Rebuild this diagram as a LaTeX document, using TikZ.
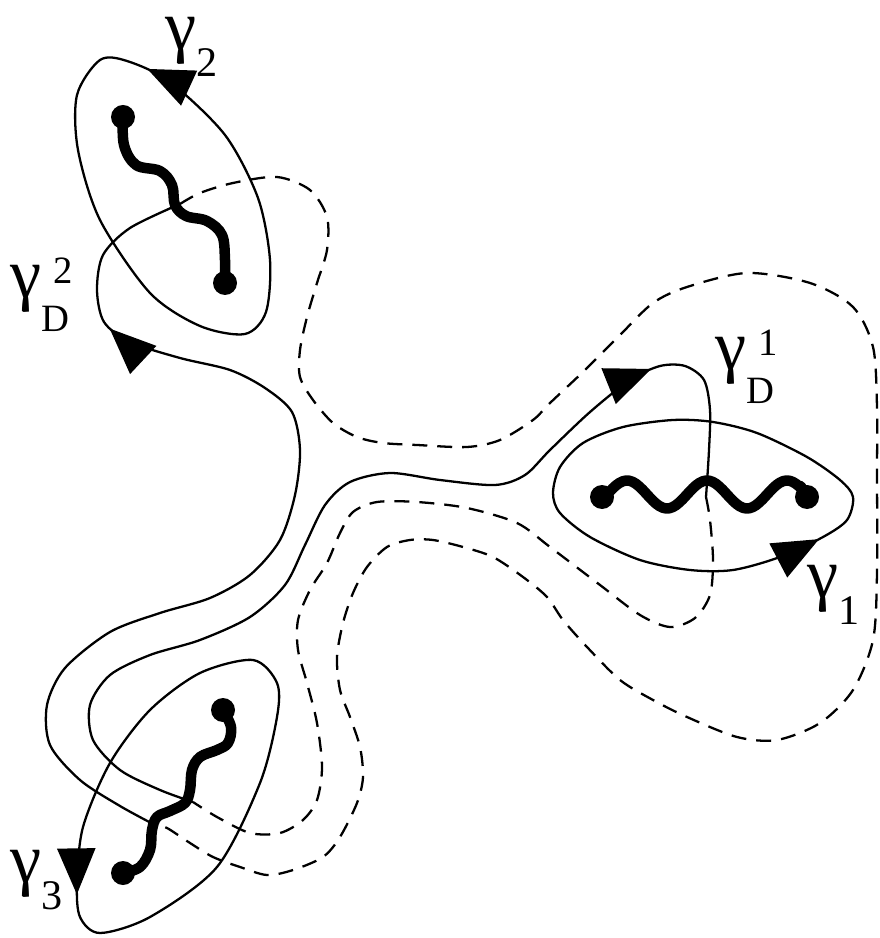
\documentclass[tikz,border=0pt]{standalone}
\usepackage{fontspec}
\setmainfont{Liberation Serif}
\usetikzlibrary{arrows.meta, decorations.markings}
\tikzset{
	firstsheet/.style={line width=.65pt},
	secondsheet/.style={line width=.65pt, dash pattern=on 1.5mm off 1mm},
	branchcut/.style={line width=1.05mm, line cap=round, line join=round},
	dot/.style={circle, fill, inner sep=0pt, minimum size=2.4mm},
	lbl/.style={inner sep=0pt, anchor=base west, font=\fontsize{20}{24}\selectfont},
	midarrow/.style={postaction={decorate, decoration={markings,
		mark=at position #1 with {\arrow{Triangle[length=4.6mm, width=3.8mm]}}}}}
}
\newcommand{\gsub}[1]{\smash{γ\raisebox{-2.7mm}{\fontsize{12}{12}\selectfont #1}}}
\newcommand{\gdual}[1]{\smash{γ\rlap{\hspace{1.2mm}\raisebox{1.4mm}{\fontsize{11}{11}\selectfont #1}}\raisebox{-3.4mm}{\fontsize{11}{11}\selectfont D}}}

\begin{document}
\begin{tikzpicture}[x=0.1mm, y=-0.1mm]
	\useasboundingbox (0,0) rectangle (879,938);

	\node[dot] (a2) at (123,117) {};
	\node[dot] (b2) at (225,283) {};
	\node[dot] (a1) at (602,497) {};
	\node[dot] (b1) at (807,497) {};
	\node[dot] (a3) at (223,710) {};
	\node[dot] (b3) at (123,873) {};

	\coordinate (p2) at (180,204);
	\coordinate (p1) at (706,497);
	\coordinate (p3) at (193,802);
	\coordinate (q3) at (155,825);

	\draw[firstsheet, midarrow=.875] plot[smooth cycle] coordinates {
		(100,60) (77,95) (78,150) (100,220) (150,293) (200,326) (245,334)
		(266,312) (270,260) (258,198) (225,135) (170,82) (127,61)};
	\draw[firstsheet, midarrow=.39] plot[smooth cycle] coordinates {
		(553,493) (560,513) (590,537) (640,560) (690,570) (733,570) (780,557)
		(823,537) (847,520) (853,497) (840,480) (807,457) (757,433) (713,422)
		(673,420) (623,427) (583,443) (560,467)};
	\draw[firstsheet, midarrow=.36] plot[smooth cycle] coordinates {
		(253,660) (200,673) (150,710) (110,763) (83,827) (77,883) (80,917)
		(100,933) (150,917) (217,867) (260,783) (277,717) (277,683)};

	\draw[firstsheet, midarrow=.825] plot[smooth] coordinates {
		(q3) (120,806) (80,780) (50,745) (47,705) (65,668) (110,632) (160,613)
		(210,598) (250,575) (280,540) (295,495) (300,450) (292,412) (265,388)
		(230,370) (180,358) (130,342) (104,322) (97,290) (103,255) (130,228) (p2)};
	\draw[firstsheet, midarrow=.83] plot[smooth] coordinates {
		(p3) (160,790) (120,770) (93,740) (90,705) (110,675) (150,655) (200,640)
		(250,617) (285,585) (305,545) (325,505) (350,482) (390,473) (440,480)
		(495,485) (525,475) (550,450) (590,412) (630,380) (660,366) (685,366)
		(704,380) (710,410) (709,450) (p1)};

	\draw[secondsheet] plot[smooth] coordinates {
		(p1) (710,520) (713,560) (710,595) (695,618) (670,627) (640,615)
		(600,585) (550,547) (517,523) (467,508) (417,502) (377,502) (353,512)
		(340,533) (327,563) (310,590) (298,620) (298,650) (307,683) (317,723)
		(322,767) (317,800) (303,820) (280,833) (250,833) (217,817) (p3)};
	\draw[secondsheet] plot[smooth] coordinates {
		(p2) (200,193) (233,183) (277,177) (310,190) (327,217) (327,250)
		(317,283) (307,317) (300,350) (300,377) (313,400) (333,423) (357,437)
		(383,443) (417,445) (467,447) (500,440) (533,420) (550,403) (585,370)
		(620,335) (653,303) (687,287) (747,273) (810,283) (853,307) (873,347)
		(877,407) (877,473) (877,573) (873,640) (853,690) (820,723) (777,740)
		(737,737) (687,717) (653,700) (620,680) (587,647) (563,620) (547,597)
		(523,577) (493,557) (463,547) (433,540) (410,540) (387,547) (367,567)
		(353,593) (343,623) (337,657) (340,690) (350,717) (360,747) (363,777)
		(357,803) (340,837) (323,857) (293,870) (267,875) (240,867) (213,857)
		(190,843) (167,828) (q3)};

	\draw[branchcut] plot[smooth, tension=.6] coordinates {
		(a2) (124,145) (136,165) (160,171) (172,185) (175,205) (186,216)
		(207,221) (222,235) (225,260) (b2)};
	\draw[branchcut] (a1) -- plot[domain=606:803, samples=60]
		(\x, {494.5-14*sin(4.5*(\x-607))}) -- (b1);
	\draw[branchcut] plot[smooth, tension=.6] coordinates {
		(a3) (231,727) (228,743) (217,750) (200,757) (192,770) (190,790)
		(185,803) (170,811) (157,817) (152,830) (150,850) (140,867) (b3)};

	\node[lbl] (t2) at (165,50) {\gsub{2}};
	\node[lbl] (t1) at (807,597) {\gsub{1}};
	\node[lbl] (t3) at (10,882) {\gsub{3}};
	\node[lbl] (td1) at (715,370) {\gdual{1}};
	\node[lbl] (td2) at (10,298) {\gdual{2}};
\end{tikzpicture}
\end{document}
